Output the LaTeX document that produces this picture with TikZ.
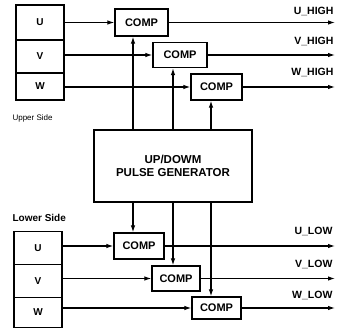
\documentclass[tikz,border=0pt]{standalone}
\usepackage{fontspec}
\setmainfont{Liberation Sans}
\usetikzlibrary{arrows.meta,calc}
\begin{document}
\begin{tikzpicture}[x=1pt,y=-1pt,
  line width=1.1pt,
  cell/.style={draw,line width=1.3pt,inner sep=0pt,minimum width=48pt,font=\bfseries\fontsize{10}{12}\selectfont},
  comp/.style={draw,line width=1.3pt,inner sep=0pt,font=\bfseries\fontsize{11}{13}\selectfont},
  arr/.style={-{Latex[length=7pt,width=4.5pt]}},
  lbl/.style={font=\bfseries\fontsize{10.5}{12}\selectfont,anchor=base east,inner sep=0pt},
  side/.style={font=\fontsize{8}{10}\selectfont,anchor=base west,inner sep=0pt}]
\useasboundingbox (0,0) rectangle (339,329);
% upper cells
\node[cell,minimum height=35pt] (uu) at (40,22.5) {U};
\node[cell,minimum height=33pt] (vu) at (40,56.5) {V};
\node[cell,minimum height=27pt] (wu) at (40,86.5) {W};
\node[side] (upper) at (12,120) {Upper Side};
% lower cells
\node[cell,minimum height=33pt] (ul) at (38,248) {U};
\node[cell,minimum height=33pt] (vl) at (38,281) {V};
\node[cell,minimum height=30pt] (wl) at (38,312.5) {W};
\node[side,font=\bfseries\fontsize{10}{12}\selectfont] (lower) at (12,221) {Lower Side};
% comparators
\node[comp,minimum width=53pt,minimum height=27pt] (c1u) at (141.5,22.5) {COMP};
\node[comp,minimum width=54pt,minimum height=25pt] (c2u) at (180,55) {COMP};
\node[comp,minimum width=51pt,minimum height=26pt] (c3u) at (216.5,87) {COMP};
\node[comp,minimum width=50pt,minimum height=26pt] (c1l) at (139,246) {COMP};
\node[comp,minimum width=48pt,minimum height=25pt] (c2l) at (176,278.5) {COMP};
\node[comp,minimum width=49pt,minimum height=22pt] (c3l) at (216.5,308) {COMP};
% generator
\node[comp,minimum width=158pt,minimum height=72pt,align=center,font=\bfseries\fontsize{11.5}{13}\selectfont] (gen) at (173,166) {UP/DOWM\\PULSE GENERATOR};
% coordinates
\coordinate (xa) at (133,0);
\coordinate (xb) at (173,0);
\coordinate (xc) at (211,0);
\coordinate (xo) at (335,0);
% inputs
\draw[arr] (uu.east |- c1u.west) -- (c1u.west);
\draw[arr] (vu.east |- c2u.west) -- (c2u.west);
\draw[arr] (wu.east |- c3u.west) -- (c3u.west);
\draw[arr] (ul.east |- c1l.west) -- (c1l.west);
\draw[arr] (vl.east |- c2l.west) -- (c2l.west);
\draw[arr] (wl.east |- c3l.west) -- (c3l.west);
% generator to comps
\draw[arr] (gen.north -| xa) -- (c1u.south -| xa);
\draw[arr] (gen.north -| xb) -- (c2u.south -| xb);
\draw[arr] (gen.north -| xc) -- (c3u.south -| xc);
\draw[arr] (gen.south -| xa) -- (c1l.north -| xa);
\draw[arr] (gen.south -| xb) -- (c2l.north -| xb);
\draw[arr] (gen.south -| xc) -- (c3l.north -| xc);
% outputs
\draw[arr] (c1u.east) -- (c1u.east -| xo);
\draw[arr] (c2u.east) -- (c2u.east -| xo);
\draw[arr] (c3u.east) -- (c3u.east -| xo);
\draw[arr] (c1l.east) -- (c1l.east -| xo);
\draw[arr] (c2l.east) -- (c2l.east -| xo);
\draw[arr] (c3l.east) -- (c3l.east -| xo);
% labels
\node[lbl] (luh) at (334,15) {U\_HIGH};
\node[lbl] (lvh) at (334,45) {V\_HIGH};
\node[lbl] (lwh) at (334,75) {W\_HIGH};
\node[lbl] (lul) at (333,234) {U\_LOW};
\node[lbl] (lvl) at (333,267) {V\_LOW};
\node[lbl] (lwl) at (333,298) {W\_LOW};
\end{tikzpicture}
\end{document}
